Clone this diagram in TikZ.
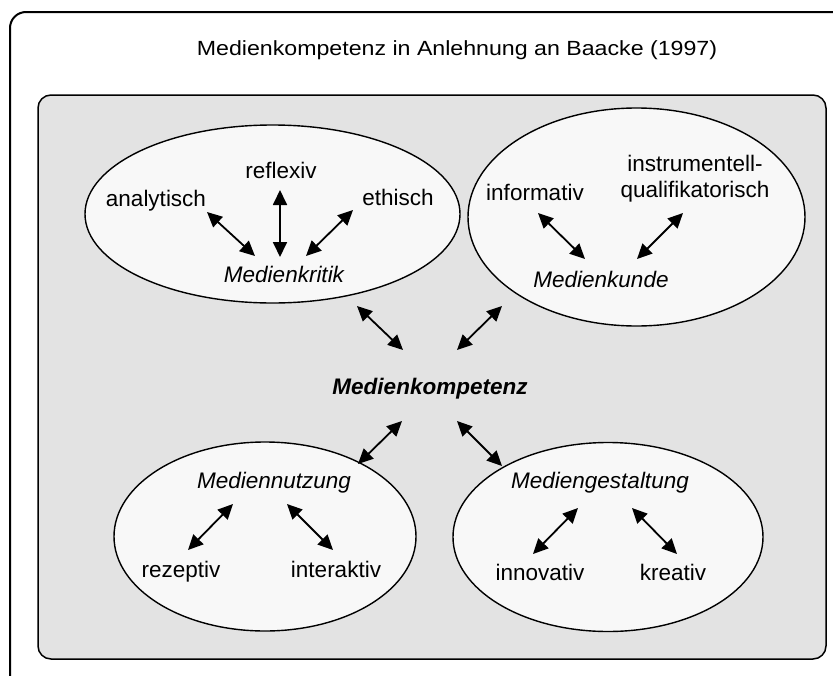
\documentclass[tikz,border=0pt]{standalone}
\usepackage{fontspec}
\setmainfont{Liberation Sans}
\newfontfamily\titlefont[FakeStretch=1.13]{Liberation Sans}
\usetikzlibrary{arrows.meta,shapes.geometric}
\definecolor{boxgray}{HTML}{E3E3E3}
\definecolor{ellfill}{HTML}{F8F8F8}
\begin{document}
\begin{tikzpicture}[x=1pt,y=-1pt,
  ellbox/.style={ellipse,draw=black,line width=1.4pt,fill=ellfill,inner sep=0pt},
  lbl/.style={anchor=base,inner sep=0pt,font=\fontsize{22.5}{26}\selectfont},
  ital/.style={lbl,font=\fontsize{22.5}{26}\selectfont\itshape},
  dbl/.style={line width=1.8pt,{Triangle[length=15pt,width=14pt]}-{Triangle[length=15pt,width=14pt]}}
]
\useasboundingbox (0,0) rectangle (833,675);
\begin{scope}
\clip (0,0) rectangle (833,675);
\draw[line width=2pt,rounded corners=16pt] (845,12) -- (10,12) -- (10,690);
\end{scope}
\node[anchor=base,inner sep=0pt,font=\titlefont\fontsize{20.5}{24}\selectfont] (title) at (457,55) {Medienkompetenz in Anlehnung an Baacke (1997)};
\draw[line width=1.5pt,fill=boxgray,rounded corners=13pt] (38,95) rectangle (826,659);

% ellipses
\node[ellbox,minimum width=375pt,minimum height=178pt] (kritikE) at (272.5,214) {};
\node[ellbox,minimum width=337pt,minimum height=218pt] (kundeE) at (636.5,217) {};
\node[ellbox,minimum width=302pt,minimum height=189pt] (nutzungE) at (265,536.5) {};
\node[ellbox,minimum width=310pt,minimum height=189pt] (gestaltE) at (608,537) {};

% labels
\node[lbl] (analytisch) at (156,206) {analytisch};
\node[lbl] (reflexiv) at (281,178) {reflexiv};
\node[lbl] (ethisch) at (398,205) {ethisch};
\node[ital] (kritik) at (284,282) {Medienkritik};
\node[lbl] (informativ) at (535,200) {informativ};
\node[lbl] (instr) at (695,171) {\begin{tabular}[t]{@{}c@{}}instrumentell-\\qualifikatorisch\end{tabular}};
\node[ital] (kunde) at (601,287) {Medienkunde};
\node[lbl,font=\fontsize{22.5}{26}\selectfont\bfseries\itshape] (kompetenz) at (430,394) {Medienkompetenz};
\node[ital] (nutzung) at (274,488) {Mediennutzung};
\node[lbl] (rezeptiv) at (181,577) {rezeptiv};
\node[lbl] (interaktiv) at (336,577) {interaktiv};
\node[ital] (gestalt) at (600,488) {Mediengestaltung};
\node[lbl] (innovativ) at (540,580) {innovativ};
\node[lbl] (kreativ) at (673,580) {kreativ};

% arrow end points
\coordinate (a1) at (207,212); \coordinate (a2) at (255,256);
\coordinate (r1) at (280,190); \coordinate (r2) at (280,257);
\coordinate (e1) at (353,210); \coordinate (e2) at (306,256);
\coordinate (i1) at (538,213); \coordinate (i2) at (585,259);
\coordinate (q1) at (683,213); \coordinate (q2) at (637,259);
\coordinate (k1) at (357,306); \coordinate (k2) at (403,350);
\coordinate (u1) at (502,306); \coordinate (u2) at (457,350);
\coordinate (n1) at (402,421); \coordinate (n2) at (358,464);
\coordinate (g1) at (457,421); \coordinate (g2) at (502,466);
\coordinate (z1) at (233,504); \coordinate (z2) at (188,550);
\coordinate (t1) at (287,504); \coordinate (t2) at (333,550);
\coordinate (v1) at (578,508); \coordinate (v2) at (533,554);
\coordinate (c1) at (632,508); \coordinate (c2) at (677,554);

\draw[dbl] (a1) -- (a2);
\draw[dbl] (r1) -- (r2);
\draw[dbl] (e1) -- (e2);
\draw[dbl] (i1) -- (i2);
\draw[dbl] (q1) -- (q2);
\draw[dbl] (k1) -- (k2);
\draw[dbl] (u1) -- (u2);
\draw[dbl] (n1) -- (n2);
\draw[dbl] (g1) -- (g2);
\draw[dbl] (z1) -- (z2);
\draw[dbl] (t1) -- (t2);
\draw[dbl] (v1) -- (v2);
\draw[dbl] (c1) -- (c2);
\end{tikzpicture}
\end{document}
